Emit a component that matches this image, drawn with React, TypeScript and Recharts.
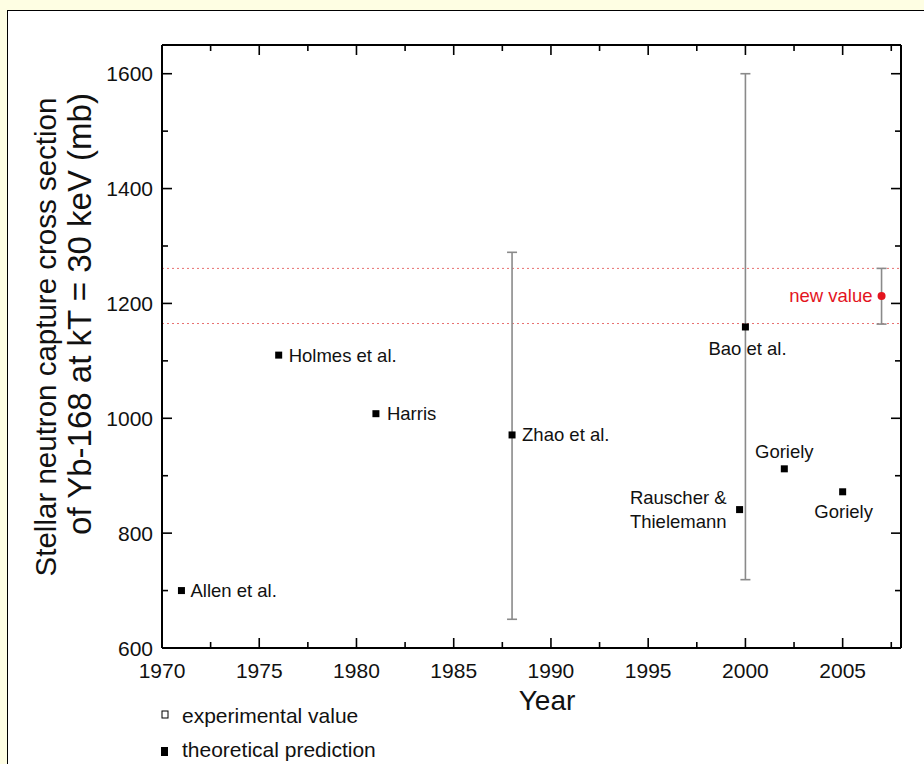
import React from 'react';
import { ScatterChart, Scatter, XAxis, YAxis, ErrorBar, ReferenceLine } from 'recharts';

const FONT = '"Liberation Sans", Arial, Helvetica, sans-serif';

// ---- data ----
const theoryNames = ['Allen et al.', 'Holmes et al.', 'Harris', 'Rauscher & Thielemann', 'Goriely', 'Goriely'];
const theoryYears = [1971, 1976, 1981, 1999.7, 2002, 2005];
const theoryValues = [700, 1110, 1008, 841, 912, 872];

const expNames = ['Zhao et al.', 'Bao et al.'];
const expYears = [1988, 2000];
const expValues = [971, 1159];
const expErrLow = [321, 440];
const expErrHigh = [318, 441];

const newNames = ['new value'];
const newYears = [2007];
const newValues = [1213];
const newErrLow = [49];
const newErrHigh = [48];

const bandLimits = [1165, 1261];

const xMajorTicks = [1970, 1975, 1980, 1985, 1990, 1995, 2000, 2005];
const xMinorTicks = [1972.5, 1977.5, 1982.5, 1987.5, 1992.5, 1997.5, 2002.5, 2007.5];
const yMajorTicks = [600, 800, 1000, 1200, 1400, 1600];
const yMinorTicks = [700, 900, 1100, 1300, 1500];

const xDomain = [1970, 2008];
const yDomain = [600, 1650];

const legendLabels = ['experimental value', 'theoretical prediction'];
const xTitle = 'Year';
const yTitleLines = ['Stellar neutron capture cross section', 'of Yb-168 at kT = 30 keV (mb)'];

// ---- label placement (style only) ----
type Place = { dx: number; dy: number; anchor: 'start' | 'middle' | 'end'; split?: boolean };
const theoryPlace: Place[] = [
  { dx: 9, dy: 0, anchor: 'start' },
  { dx: 10, dy: 0, anchor: 'start' },
  { dx: 11, dy: 0, anchor: 'start' },
  { dx: -13, dy: 0, anchor: 'end', split: true },
  { dx: 0, dy: -17, anchor: 'middle' },
  { dx: 1, dy: 20, anchor: 'middle' },
];
const expPlace: Place[] = [
  { dx: 10, dy: 0, anchor: 'start' },
  { dx: -37, dy: 22, anchor: 'start' },
];
const newPlace: Place[] = [{ dx: -9, dy: 0, anchor: 'end' }];

const theoryData = theoryYears.map((y, i) => ({ year: y, value: theoryValues[i], name: theoryNames[i], idx: i }));
const expData = expYears.map((y, i) => ({
  year: y,
  value: expValues[i],
  name: expNames[i],
  idx: i,
  err: [expErrLow[i], expErrHigh[i]],
}));
const newData = newYears.map((y, i) => ({
  year: y,
  value: newValues[i],
  name: newNames[i],
  idx: i,
  err: [newErrLow[i], newErrHigh[i]],
}));

const LABEL_SIZE = 18.5;
const TICK_SIZE = 21;
const RED = '#e3141e';

function renderLabel(cx: number, cy: number, name: string, p: Place, color: string) {
  if (p.split) {
    const parts = name.split(' & ');
    return (
      <text x={cx + p.dx} textAnchor={p.anchor} fill={color} fontSize={LABEL_SIZE} fontFamily={FONT}>
        <tspan x={cx + p.dx} y={cy - 12} dominantBaseline="central">{parts[0] + ' &'}</tspan>
        <tspan x={cx + p.dx} y={cy + 12} dominantBaseline="central">{parts[1]}</tspan>
      </text>
    );
  }
  return (
    <text x={cx + p.dx} y={cy + p.dy} textAnchor={p.anchor} dominantBaseline="central" fill={color} fontSize={LABEL_SIZE} fontFamily={FONT}>
      {name}
    </text>
  );
}

const makeSquareShape = (places: Place[]) => (props: any) => {
  const { cx, cy, payload } = props;
  if (cx == null || cy == null) return <g />;
  const s = 7;
  return (
    <g>
      <rect x={cx - s / 2} y={cy - s / 2} width={s} height={s} fill="#000" />
      {renderLabel(cx, cy, payload.name, places[payload.idx], '#111')}
    </g>
  );
};

const newShape = (props: any) => {
  const { cx, cy, payload } = props;
  if (cx == null || cy == null) return <g />;
  return (
    <g>
      <circle cx={cx} cy={cy} r={4} fill={RED} />
      {renderLabel(cx, cy, payload.name, newPlace[payload.idx], RED)}
    </g>
  );
};

const isMajorX = (v: number) => xMajorTicks.includes(v);
const isMajorY = (v: number) => yMajorTicks.includes(v);

const BottomTick = (props: any) => {
  const { x, y, payload } = props;
  const major = isMajorX(payload.value);
  const len = major ? 10 : 6;
  return (
    <g>
      <line x1={x} y1={y} x2={x} y2={y - len} stroke="#000" strokeWidth={1.6} />
      {major && (
        <text x={x} y={y + 22} textAnchor="middle" dominantBaseline="central" fontSize={TICK_SIZE} fontFamily={FONT} fill="#111">
          {payload.value}
        </text>
      )}
    </g>
  );
};

const TopTick = (props: any) => {
  const { x, y, payload } = props;
  const major = isMajorX(payload.value);
  const len = major ? 10 : 6;
  return <line x1={x} y1={y} x2={x} y2={y + len} stroke="#000" strokeWidth={1.6} />;
};

const LeftTick = (props: any) => {
  const { x, y, payload } = props;
  const major = isMajorY(payload.value);
  const len = major ? 10 : 6;
  return (
    <g>
      <line x1={x} y1={y} x2={x + len} y2={y} stroke="#000" strokeWidth={1.6} />
      {major && (
        <text x={x - 9} y={y} textAnchor="end" dominantBaseline="central" fontSize={TICK_SIZE} fontFamily={FONT} fill="#111">
          {payload.value}
        </text>
      )}
    </g>
  );
};

const RightTick = (props: any) => {
  const { x, y, payload } = props;
  const major = isMajorY(payload.value);
  const len = major ? 10 : 6;
  return <line x1={x} y1={y} x2={x - len} y2={y} stroke="#000" strokeWidth={1.6} />;
};

const xTicks = [...xMajorTicks, ...xMinorTicks].sort((a, b) => a - b);
const yTicks = [...yMajorTicks, ...yMinorTicks].sort((a, b) => a - b);

const axisLineStyle = { stroke: '#000', strokeWidth: 2 };

export default function App() {
  return (
    <div style={{ position: 'fixed', left: 0, top: 0, width: 924, height: 764, background: '#fefee3', overflow: 'hidden' }}>
      <div
        style={{
          position: 'absolute',
          left: 7,
          top: 10,
          width: 940,
          height: 780,
          background: '#ffffff',
          borderLeft: '1.5px solid #000',
          borderTop: '1.5px solid #000',
        }}
      />
      <div style={{ position: 'absolute', left: 0, top: 0 }}>
        <ScatterChart width={924} height={764} margin={{ top: 35, right: 13, bottom: 86, left: 102 }}>
          <XAxis
            xAxisId={0}
            type="number"
            dataKey="year"
            domain={xDomain}
            ticks={xTicks}
            interval={0}
            height={30}
            tickSize={0}
            tickMargin={0}
            tickLine={false}
            axisLine={axisLineStyle}
            tick={BottomTick}
            allowDataOverflow
          />
          <XAxis
            xAxisId="top"
            orientation="top"
            type="number"
            dataKey="year"
            domain={xDomain}
            ticks={xTicks}
            interval={0}
            height={10}
            tickSize={0}
            tickMargin={0}
            tickLine={false}
            axisLine={axisLineStyle}
            tick={TopTick}
            allowDataOverflow
          />
          <YAxis
            yAxisId={0}
            type="number"
            dataKey="value"
            domain={yDomain}
            ticks={yTicks}
            interval={0}
            width={60}
            tickSize={0}
            tickMargin={0}
            tickLine={false}
            axisLine={axisLineStyle}
            tick={LeftTick}
            allowDataOverflow
          />
          <YAxis
            yAxisId="right"
            orientation="right"
            type="number"
            dataKey="value"
            domain={yDomain}
            ticks={yTicks}
            interval={0}
            width={10}
            tickSize={0}
            tickMargin={0}
            tickLine={false}
            axisLine={axisLineStyle}
            tick={RightTick}
            allowDataOverflow
          />
          {bandLimits.map((v) => (
            <ReferenceLine key={v} y={v} stroke="#e87070" strokeWidth={1} strokeDasharray="2 3" />
          ))}
          <Scatter data={expData} isAnimationActive={false} shape={makeSquareShape(expPlace)}>
            <ErrorBar dataKey="err" direction="y" width={5} stroke="#8a8a8a" strokeWidth={1.6} />
          </Scatter>
          <Scatter data={newData} isAnimationActive={false} shape={newShape}>
            <ErrorBar dataKey="err" direction="y" width={5} stroke="#8a8a8a" strokeWidth={1.6} />
          </Scatter>
          <Scatter data={theoryData} isAnimationActive={false} shape={makeSquareShape(theoryPlace)} />
        </ScatterChart>
      </div>
      <svg width={924} height={764} style={{ position: 'absolute', left: 0, top: 0, pointerEvents: 'none' }}>
        <text
          transform="translate(45,337) rotate(-90)"
          textAnchor="middle"
          dominantBaseline="central"
          fontSize={29.5}
          fontFamily={FONT}
          fill="#111"
        >
          {yTitleLines[0]}
        </text>
        <text
          transform="translate(79,314) rotate(-90)"
          textAnchor="middle"
          dominantBaseline="central"
          fontSize={33}
          fontFamily={FONT}
          fill="#111"
        >
          {yTitleLines[1]}
        </text>
        <text x={547} y={700} textAnchor="middle" dominantBaseline="central" fontSize={28} fontFamily={FONT} fill="#111">
          {xTitle}
        </text>
        <rect x={162} y={711} width={6} height={7} fill="#fff" stroke="#000" strokeWidth={1} />
        <text x={182} y={715} dominantBaseline="central" fontSize={21} fontFamily={FONT} fill="#111">
          {legendLabels[0]}
        </text>
        <rect x={161} y={747} width={7} height={9} fill="#000" />
        <text x={182} y={749} dominantBaseline="central" fontSize={21} fontFamily={FONT} fill="#111">
          {legendLabels[1]}
        </text>
      </svg>
    </div>
  );
}
